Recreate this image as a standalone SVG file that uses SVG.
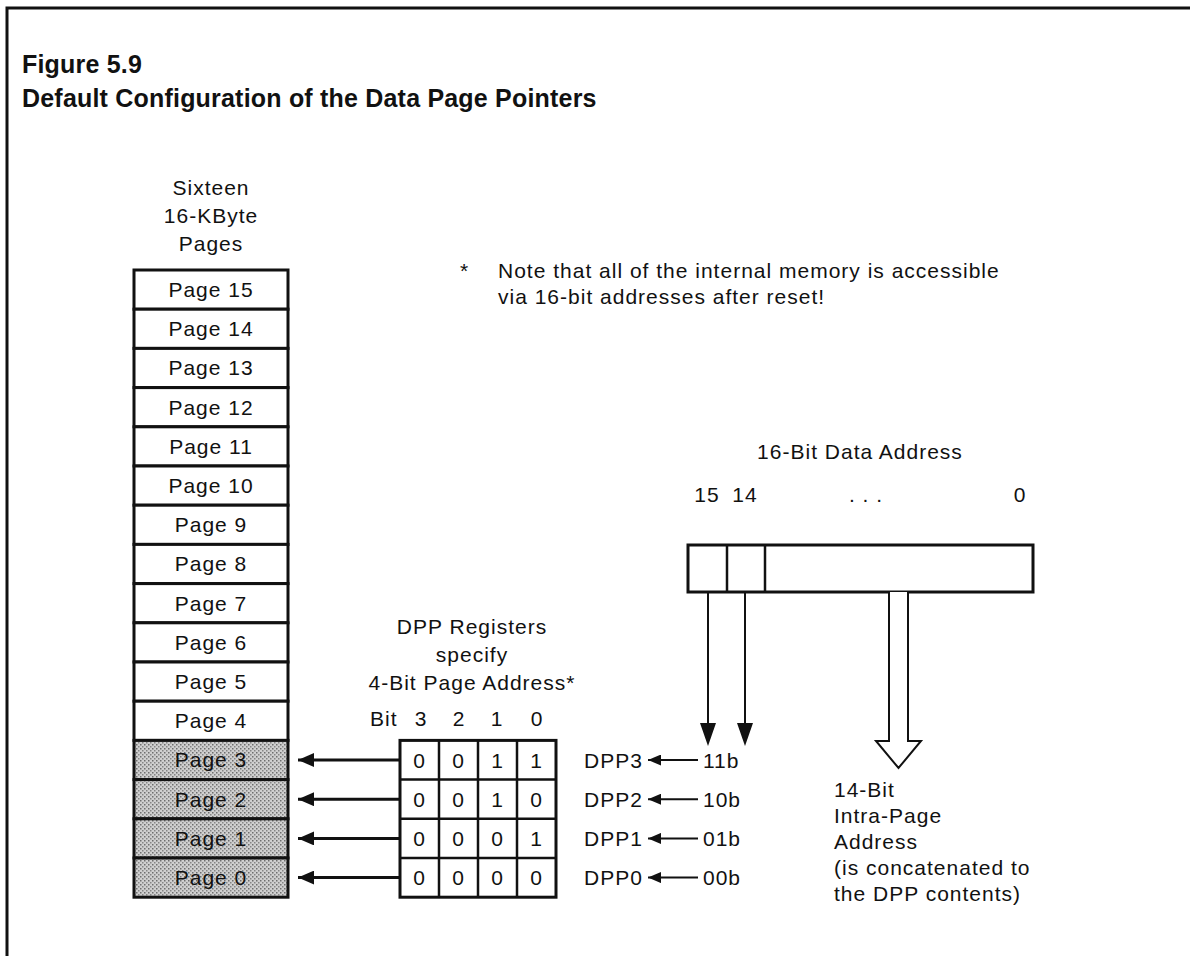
<svg xmlns="http://www.w3.org/2000/svg" width="1190" height="956" viewBox="0 0 1190 956">
<style>
text{font-family:"Liberation Sans",Arial,sans-serif;fill:#111;}
.t{font-size:25px;font-weight:bold;letter-spacing:0.2px;}
.l{font-size:21px;letter-spacing:1px;}
.c{text-anchor:middle;}
.box{fill:#fff;stroke:#111;stroke-width:3;}
.cell{fill:none;stroke:#111;stroke-width:2.5;}
.gray{fill:url(#dots);}
</style>
<defs>
<pattern id="dots" width="4" height="4" patternUnits="userSpaceOnUse">
<rect width="4" height="4" fill="#cfcfcf"/>
<rect x="0" y="0" width="1.5" height="1.5" fill="#6e6e6e"/>
<rect x="2" y="2" width="1.5" height="1.5" fill="#858585"/>
</pattern>
<marker id="ahBig" markerWidth="16" markerHeight="14" refX="16" refY="7" orient="auto" markerUnits="userSpaceOnUse" viewBox="0 0 16 14">
<path d="M0,0 L16,7 L0,14 Z" fill="#111"/>
</marker>
<marker id="ahSm" markerWidth="13" markerHeight="11" refX="13" refY="5.5" orient="auto" markerUnits="userSpaceOnUse" viewBox="0 0 13 11">
<path d="M0,0 L13,5.5 L0,11 Z" fill="#111"/>
</marker>
</defs>
<rect width="1190" height="956" fill="#fff"/>
<path d="M7,956 V8 H1190" fill="none" stroke="#111" stroke-width="3"/>
<g id="title">
<text class="t" x="22" y="73">Figure 5.9</text>
<text class="t" x="22" y="107">Default Configuration of the Data Page Pointers</text>
</g>
<g id="pages-heading">
<text class="l c" x="211" y="195">Sixteen</text>
<text class="l c" x="211" y="223">16-KByte</text>
<text class="l c" x="211" y="251">Pages</text>
</g>
<g id="page-stack">
<rect class="box" x="134" y="270" width="154" height="39.2"/>
<rect class="box" x="134" y="309.2" width="154" height="39.2"/>
<rect class="box" x="134" y="348.4" width="154" height="39.2"/>
<rect class="box" x="134" y="387.6" width="154" height="39.2"/>
<rect class="box" x="134" y="426.8" width="154" height="39.2"/>
<rect class="box" x="134" y="466" width="154" height="39.2"/>
<rect class="box" x="134" y="505.2" width="154" height="39.2"/>
<rect class="box" x="134" y="544.4" width="154" height="39.2"/>
<rect class="box" x="134" y="583.6" width="154" height="39.2"/>
<rect class="box" x="134" y="622.8" width="154" height="39.2"/>
<rect class="box" x="134" y="662" width="154" height="39.2"/>
<rect class="box" x="134" y="701.2" width="154" height="39.2"/>
<rect class="box gray" x="134" y="740.4" width="154" height="39.2"/>
<rect class="box gray" x="134" y="779.6" width="154" height="39.2"/>
<rect class="box gray" x="134" y="818.8" width="154" height="39.2"/>
<rect class="box gray" x="134" y="858" width="154" height="39.2"/>
<text class="l c" x="211" y="297">Page 15</text>
<text class="l c" x="211" y="336">Page 14</text>
<text class="l c" x="211" y="375">Page 13</text>
<text class="l c" x="211" y="415">Page 12</text>
<text class="l c" x="211" y="454">Page 11</text>
<text class="l c" x="211" y="493">Page 10</text>
<text class="l c" x="211" y="532">Page 9</text>
<text class="l c" x="211" y="571">Page 8</text>
<text class="l c" x="211" y="611">Page 7</text>
<text class="l c" x="211" y="650">Page 6</text>
<text class="l c" x="211" y="689">Page 5</text>
<text class="l c" x="211" y="728">Page 4</text>
<text class="l c" x="211" y="767">Page 3</text>
<text class="l c" x="211" y="807">Page 2</text>
<text class="l c" x="211" y="846">Page 1</text>
<text class="l c" x="211" y="885">Page 0</text>
</g>
<g id="note">
<text class="l" x="460" y="278">*</text>
<text class="l" x="498" y="278">Note that all of the internal memory is accessible</text>
<text class="l" x="498" y="304">via 16-bit addresses after reset!</text>
</g>
<g id="dpp-heading">
<text class="l c" x="472" y="634">DPP Registers</text>
<text class="l c" x="472" y="662">specify</text>
<text class="l c" x="472" y="690">4-Bit Page Address*</text>
<text class="l" x="370" y="726">Bit</text>
<text class="l c" x="421" y="726">3</text>
<text class="l c" x="459" y="726">2</text>
<text class="l c" x="497" y="726">1</text>
<text class="l c" x="537" y="726">0</text>
</g>
<g id="dpp-registers">
<rect class="box" x="400" y="740.4" width="156" height="156.8"/>
<line class="cell" x1="400" y1="779.6" x2="556" y2="779.6"/>
<line class="cell" x1="400" y1="818.8" x2="556" y2="818.8"/>
<line class="cell" x1="400" y1="858" x2="556" y2="858"/>
<line class="cell" x1="439" y1="740.4" x2="439" y2="897.2"/>
<line class="cell" x1="478" y1="740.4" x2="478" y2="897.2"/>
<line class="cell" x1="517" y1="740.4" x2="517" y2="897.2"/>
<text class="l c" x="419.5" y="768">0</text><text class="l c" x="458.5" y="768">0</text><text class="l c" x="497.5" y="768">1</text><text class="l c" x="536.5" y="768">1</text>
<text class="l c" x="419.5" y="807">0</text><text class="l c" x="458.5" y="807">0</text><text class="l c" x="497.5" y="807">1</text><text class="l c" x="536.5" y="807">0</text>
<text class="l c" x="419.5" y="846">0</text><text class="l c" x="458.5" y="846">0</text><text class="l c" x="497.5" y="846">0</text><text class="l c" x="536.5" y="846">1</text>
<text class="l c" x="419.5" y="885">0</text><text class="l c" x="458.5" y="885">0</text><text class="l c" x="497.5" y="885">0</text><text class="l c" x="536.5" y="885">0</text>
</g>
<g id="dpp-labels">
<text class="l" x="584" y="768">DPP3</text>
<text class="l" x="584" y="807">DPP2</text>
<text class="l" x="584" y="846">DPP1</text>
<text class="l" x="584" y="885">DPP0</text>
<text class="l" x="703" y="768">11b</text>
<text class="l" x="703" y="807">10b</text>
<text class="l" x="703" y="846">01b</text>
<text class="l" x="703" y="885">00b</text>
</g>
<g id="data-address">
<text class="l c" x="860" y="459">16-Bit Data Address</text>
<text class="l c" x="707" y="502">15</text>
<text class="l c" x="745" y="502">14</text>
<text class="l c" x="866" y="502">. . .</text>
<text class="l c" x="1020" y="502">0</text>
<rect class="box" x="688" y="545" width="345" height="47"/>
<line class="cell" x1="727" y1="545" x2="727" y2="592"/>
<line class="cell" x1="765" y1="545" x2="765" y2="592"/>
</g>
<g id="intra-page">
<text class="l" x="834" y="797">14-Bit</text>
<text class="l" x="834" y="823">Intra-Page</text>
<text class="l" x="834" y="849">Address</text>
<text class="l" x="834" y="875">(is concatenated to</text>
<text class="l" x="834" y="901">the DPP contents)</text>
</g>
<g id="connectors">
<line x1="400" y1="760" x2="298" y2="760" stroke="#111" stroke-width="3" marker-end="url(#ahBig)"/>
<line x1="400" y1="799.2" x2="298" y2="799.2" stroke="#111" stroke-width="3" marker-end="url(#ahBig)"/>
<line x1="400" y1="838.4" x2="298" y2="838.4" stroke="#111" stroke-width="3" marker-end="url(#ahBig)"/>
<line x1="400" y1="877.6" x2="298" y2="877.6" stroke="#111" stroke-width="3" marker-end="url(#ahBig)"/>
<line x1="698" y1="760" x2="648" y2="760" stroke="#111" stroke-width="2" marker-end="url(#ahSm)"/>
<line x1="698" y1="799.2" x2="648" y2="799.2" stroke="#111" stroke-width="2" marker-end="url(#ahSm)"/>
<line x1="698" y1="838.4" x2="648" y2="838.4" stroke="#111" stroke-width="2" marker-end="url(#ahSm)"/>
<line x1="698" y1="877.6" x2="648" y2="877.6" stroke="#111" stroke-width="2" marker-end="url(#ahSm)"/>
<line x1="708" y1="592" x2="708" y2="728" stroke="#111" stroke-width="2"/>
<path d="M700,723 L716,723 L708,746 Z" fill="#111"/>
<line x1="745" y1="592" x2="745" y2="728" stroke="#111" stroke-width="2"/>
<path d="M737,723 L753,723 L745,746 Z" fill="#111"/>
<path d="M889,592 V741 H876 L898.5,768 L921,741 H908 V592" fill="#fff" stroke="#111" stroke-width="2"/>
</g>
</svg>
